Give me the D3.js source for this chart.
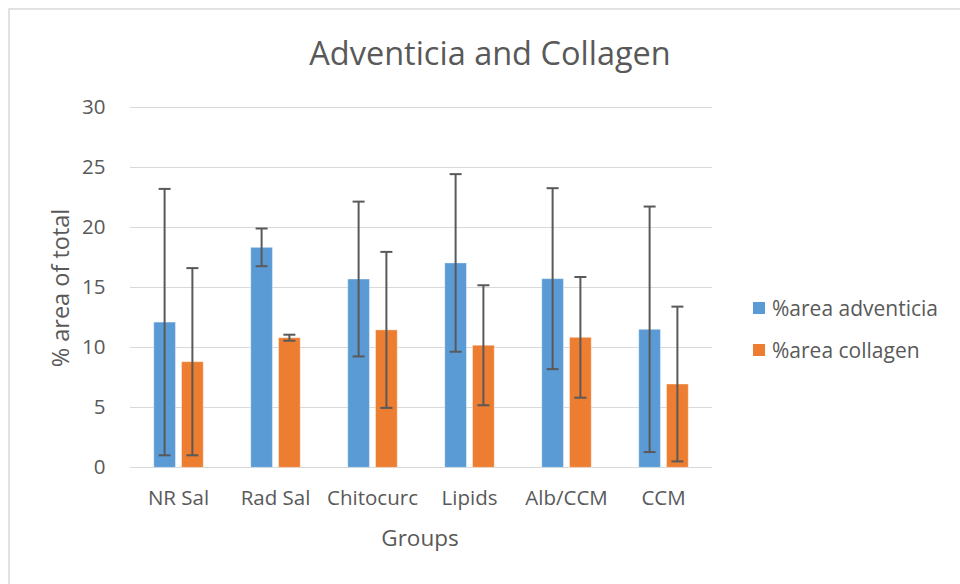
<!DOCTYPE html>
<html>
<head>
<meta charset="utf-8">
<script src="https://cdn.jsdelivr.net/npm/d3@7/dist/d3.min.js"></script>
<style>
  html, body { margin: 0; padding: 0; background: #fff; }
  svg { display: block; font-family: "Open Sans", Lato, sans-serif; }
</style>
</head>
<body>
<svg id="chart" width="960" height="584"></svg>
<script>
const categories = ["NR Sal", "Rad Sal", "Chitocurc", "Lipids", "Alb/CCM", "CCM"];
const seriesNames = ["%area adventicia", "%area collagen"];
const adventicia = [12.1, 18.33, 15.69, 17.03, 15.72, 11.5];
const adventiciaErr = [11.1, 1.57, 6.45, 7.4, 7.54, 10.23];
const collagen = [8.8, 10.8, 11.45, 10.17, 10.83, 6.94];
const collagenErr = [7.8, 0.25, 6.5, 5.0, 5.03, 6.45];
const yTicks = [0, 5, 10, 15, 20, 25, 30];
const colors = ["#5B9BD5", "#ED7D31"];

const svg = d3.select("#chart");
const textColor = "#595959";
const font = "'Open Sans', Lato, sans-serif";

// outer chart border
svg.append("rect").attr("x", 9).attr("y", 9).attr("width", 980).attr("height", 620)
  .attr("fill", "#fff").attr("stroke", "#d9d9d9").attr("stroke-width", 1.5);

const plot = { left: 130, right: 712, top: 107.3, bottom: 467.3 };

const y = d3.scaleLinear().domain([0, 30]).range([plot.bottom, plot.top]);
const x0 = d3.scaleBand().domain(categories).range([plot.left, plot.right])
  .paddingInner(0.49).paddingOuter(0.245);
const x1 = d3.scaleBand().domain(seriesNames).range([0, x0.bandwidth()]).paddingInner(0.22);

// gridlines
svg.append("g").selectAll("line").data(yTicks).join("line")
  .attr("x1", plot.left).attr("x2", plot.right)
  .attr("y1", d => Math.round(y(d)) + 0.5).attr("y2", d => Math.round(y(d)) + 0.5)
  .attr("stroke", "#d9d9d9").attr("stroke-width", 1.2);

// y axis labels
const yAxis = d3.axisLeft(y).tickValues(yTicks).tickSize(0).tickPadding(0);
const gy = svg.append("g").attr("transform", `translate(${105.5},0)`).call(yAxis);
gy.select(".domain").remove();
gy.selectAll("text").attr("fill", textColor).style("font-size", "20.5px")
  .style("font-family", font);

// x axis labels
const xAxis = d3.axisBottom(x0).tickSize(0).tickPadding(0);
const gx = svg.append("g").attr("transform", `translate(0,${plot.bottom})`).call(xAxis);
gx.select(".domain").remove();
gx.selectAll("text").attr("fill", textColor).style("font-size", "20.5px")
  .style("font-family", font).attr("y", 38).attr("dy", 0);

const data = categories.map((c, i) => ({
  cat: c,
  vals: [
    { s: seriesNames[0], v: adventicia[i], e: adventiciaErr[i], c: colors[0] },
    { s: seriesNames[1], v: collagen[i], e: collagenErr[i], c: colors[1] }
  ]
}));

const groups = svg.append("g").selectAll("g").data(data).join("g")
  .attr("transform", d => `translate(${x0(d.cat)},0)`);

groups.selectAll("rect").data(d => d.vals).join("rect")
  .attr("x", d => x1(d.s)).attr("width", x1.bandwidth())
  .attr("y", d => y(d.v)).attr("height", d => y(0) - y(d.v))
  .attr("fill", d => d.c).attr("stroke", "#fff").attr("stroke-opacity", 0.35).attr("stroke-width", 1);

// error bars
const eb = groups.selectAll("g.err").data(d => d.vals).join("g").attr("class", "err")
  .attr("stroke", "#595959").attr("stroke-width", 2);
eb.append("line")
  .attr("x1", d => x1(d.s) + x1.bandwidth()/2).attr("x2", d => x1(d.s) + x1.bandwidth()/2)
  .attr("y1", d => y(d.v + d.e)).attr("y2", d => y(d.v - d.e));
eb.append("line")
  .attr("x1", d => x1(d.s) + x1.bandwidth()/2 - 6).attr("x2", d => x1(d.s) + x1.bandwidth()/2 + 6)
  .attr("y1", d => y(d.v + d.e)).attr("y2", d => y(d.v + d.e));
eb.append("line")
  .attr("x1", d => x1(d.s) + x1.bandwidth()/2 - 6).attr("x2", d => x1(d.s) + x1.bandwidth()/2 + 6)
  .attr("y1", d => y(d.v - d.e)).attr("y2", d => y(d.v - d.e));

// title
svg.append("text").attr("x", 490).attr("y", 65).attr("text-anchor", "middle")
  .attr("fill", textColor).style("font-size", "32.5px").text("Adventicia and Collagen");

// axis titles
svg.append("text").attr("x", (plot.left + plot.right)/2 - 1).attr("y", 546).attr("text-anchor", "middle")
  .attr("fill", textColor).style("font-size", "22.5px").text("Groups");
svg.append("text").attr("transform", `translate(69,${288}) rotate(-90)`)
  .attr("text-anchor", "middle").attr("fill", textColor).style("font-size", "23.5px").text("% area of total");

// legend
const legend = svg.append("g").selectAll("g").data(seriesNames).join("g")
  .attr("transform", (d, i) => `translate(753,${302 + i*42})`);
legend.append("rect").attr("width", 12).attr("height", 12).attr("fill", (d, i) => colors[i]);
legend.append("text").attr("x", 19).attr("y", 14).attr("fill", textColor)
  .style("font-size", "21px").text(d => d);
</script>
</body>
</html>
